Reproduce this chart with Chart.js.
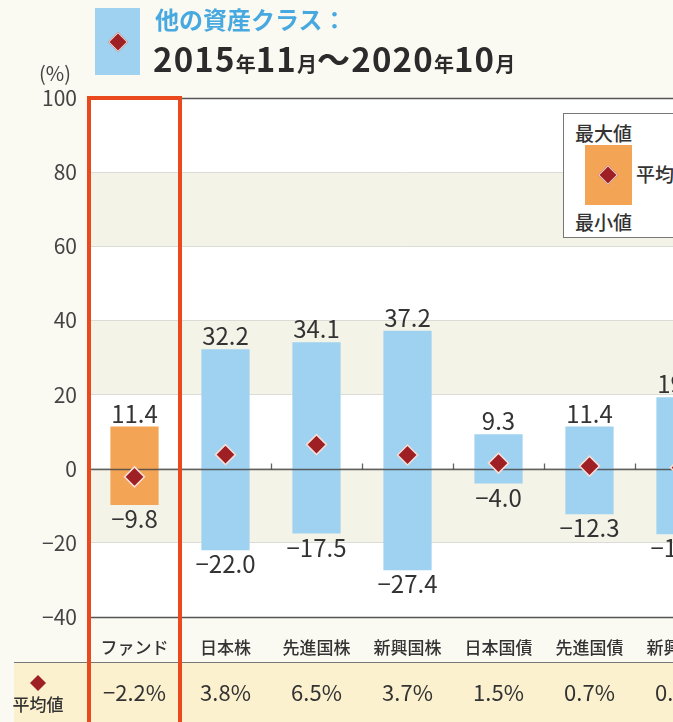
<!DOCTYPE html>
<html lang="ja">
<head>
<meta charset="utf-8">
<script src="https://cdn.jsdelivr.net/npm/chart.js@4"></script>
<style>
  body { margin: 0; background: #faf9f2; font-family: 'Noto Sans CJK JP', sans-serif; }
  #wrap { position: relative; width: 673px; height: 722px; overflow: hidden; }
  #c { position: absolute; left: 0; top: 0; }
  .dia { position: absolute; width: 12px; height: 12px; background: #9e1f24; border: 1px solid #f3d8d0; transform: rotate(45deg); }
  .head-box { position: absolute; left: 95px; top: 8px; width: 45px; height: 67px; background: #9fd2f0; }
  .t1 { position: absolute; left: 155px; top: 1px; font-size: 24px; font-weight: 700; color: #47a9e0; white-space: nowrap; }
  .t2 { position: absolute; left: 153px; top: 34px; font-size: 33px; font-weight: 700; color: #2b2b2b; white-space: nowrap; letter-spacing: 1.2px; }
  .t2 small { font-size: 20px; letter-spacing: 0; }
  .unit { position: absolute; left: 39px; top: 58px; font-size: 20px; color: #444; }
  .legend-box { position: absolute; left: 563px; top: 113px; width: 130px; height: 123px; border: 1px solid #777; background: #fff; font-size: 19px; font-weight: 500; color: #333; }
  .legend-box span { position: absolute; white-space: nowrap; line-height: 1; }
</style>
</head>
<body>
<div id="wrap">
  <canvas id="c" width="740" height="722"></canvas>

  <!-- Header -->
  <div class="head-box"><div class="dia" style="left:16px;top:27px"></div></div>
  <div class="t1">他の資産クラス：</div>
  <div class="t2">2015<small>年</small>11<small>月</small>～2020<small>年</small>10<small>月</small></div>
  <div class="unit">(%)</div>

  <!-- Legend -->
  <div class="legend-box">
    <span style="left:11px;top:9px">最大値</span>
    <div style="position:absolute;left:21px;top:31px;width:47px;height:60px;background:#f4a455">
      <div class="dia" style="left:16px;top:23px"></div>
    </div>
    <span style="left:72px;top:50px">平均値</span>
    <span style="left:11px;top:98px">最小値</span>
  </div>
</div>

<script>
const categories = ['ファンド', '日本株', '先進国株', '新興国株', '日本国債', '先進国債', '新興国債'];
const maxValues  = [11.4, 32.2, 34.1, 37.2, 9.3, 11.4, 19.3];
const minValues  = [-9.8, -22.0, -17.5, -27.4, -4.0, -12.3, -17.7];
const avgValues  = [-2.2, 3.8, 6.5, 3.7, 1.5, 0.7, 0.3];
const yMin = -40, yMax = 100, yStep = 20;

const FONT = "'Noto Sans CJK JP', sans-serif";
const fmtNum = v => (v < 0 ? '\u2212' : '') + Math.abs(v).toFixed(1);
const fmtPct = v => fmtNum(v) + '%';

Chart.defaults.font.family = FONT;
Chart.defaults.color = '#333';

function diamond(ctx, x, y, r, fill, stroke) {
  ctx.beginPath();
  ctx.moveTo(x, y - r); ctx.lineTo(x + r, y); ctx.lineTo(x, y + r); ctx.lineTo(x - r, y);
  ctx.closePath();
  ctx.fillStyle = fill; ctx.fill();
  if (stroke) { ctx.strokeStyle = stroke; ctx.lineWidth = 1; ctx.stroke(); }
}

// background bands inside plot area
const bandsPlugin = {
  id: 'bands',
  beforeDraw(chart) {
    const { ctx, chartArea: a, scales: { y } } = chart;
    ctx.save();
    ctx.fillStyle = '#fff';
    ctx.fillRect(a.left, a.top, a.right - a.left, a.bottom - a.top);
    ctx.fillStyle = '#f4f3e8';
    [[80, 60], [40, 20], [0, -20]].forEach(([hi, lo]) => {
      const t = y.getPixelForValue(hi), b = y.getPixelForValue(lo);
      ctx.fillRect(a.left, t, a.right - a.left, b - t);
    });
    ctx.restore();
  }
};

// zero line + separators drawn right after the bars (under the diamonds)
const zeroPlugin = {
  id: 'zero',
  afterDatasetDraw(chart, args) {
    if (args.index !== 0) return;
    const { ctx, chartArea: a, scales: { x, y } } = chart;
    const y0 = Math.round(y.getPixelForValue(0)) + 0.5;
    ctx.save();
    ctx.strokeStyle = 'rgba(70,70,70,0.85)';
    ctx.lineWidth = 1.3;
    ctx.beginPath(); ctx.moveTo(a.left, y0); ctx.lineTo(a.right, y0); ctx.stroke();
    for (let i = 1; i < categories.length; i++) {
      const xm = Math.round((x.getPixelForValue(i - 1) + x.getPixelForValue(i)) / 2) + 0.5;
      ctx.beginPath(); ctx.moveTo(xm, y0); ctx.lineTo(xm, y0 - 6); ctx.stroke();
    }
    ctx.restore();
  }
};

// value labels, frame lines, average row, highlight box
const labelsPlugin = {
  id: 'labels',
  afterDatasetsDraw(chart) {
    const { ctx, scales: { x, y } } = chart;
    ctx.save();
    ctx.font = '24px ' + FONT;
    ctx.fillStyle = '#333';
    ctx.textAlign = 'center';
    categories.forEach((c, i) => {
      const cx = x.getPixelForValue(i);
      ctx.textBaseline = 'bottom';
      ctx.fillText(fmtNum(maxValues[i]), cx, y.getPixelForValue(maxValues[i]) - 1);
      ctx.textBaseline = 'top';
      ctx.fillText(fmtNum(minValues[i]), cx, y.getPixelForValue(minValues[i]) + 2);
    });
    ctx.restore();
  },
  afterDraw(chart) {
    const { ctx, chartArea: a, scales: { x, y }, width, height } = chart;
    ctx.save();
    // top and bottom frame lines
    ctx.strokeStyle = '#555';
    ctx.lineWidth = 1.3;
    [yMax, yMin].forEach(v => {
      const py = Math.round(y.getPixelForValue(v)) + 0.5;
      ctx.beginPath(); ctx.moveTo(a.left, py); ctx.lineTo(a.right, py); ctx.stroke();
    });

    // average row
    const rowTop = 663;
    ctx.fillStyle = '#fcf1cf';
    ctx.fillRect(14, rowTop, width - 14, height - rowTop);
    ctx.strokeStyle = '#777';
    ctx.lineWidth = 1;
    ctx.beginPath(); ctx.moveTo(14, rowTop - 0.5); ctx.lineTo(width, rowTop - 0.5); ctx.stroke();

    diamond(ctx, 38, 683, 8, '#9e1f24');
    ctx.fillStyle = '#333';
    ctx.textAlign = 'center';
    ctx.textBaseline = 'middle';
    ctx.font = '500 17px ' + FONT;
    ctx.fillText('平均値', 38, 705);
    ctx.font = '22px ' + FONT;
    avgValues.forEach((v, i) => ctx.fillText(fmtPct(v), x.getPixelForValue(i), 693));

    // highlight box around the fund column
    const half = (x.getPixelForValue(1) - x.getPixelForValue(0)) / 2;
    const fx = x.getPixelForValue(0);
    ctx.strokeStyle = '#e9491c';
    ctx.lineWidth = 4;
    ctx.strokeRect(fx - half, a.top, half * 2, height + 10);
    ctx.restore();
  }
};

new Chart(document.getElementById('c'), {
  type: 'bar',
  data: {
    labels: categories,
    datasets: [
      {
        type: 'bar',
        data: minValues.map((v, i) => [v, maxValues[i]]),
        backgroundColor: categories.map((c, i) => i === 0 ? '#f4a455' : '#9fd2f0'),
        borderWidth: 0,
        borderSkipped: false,
        barPercentage: 0.53,
        categoryPercentage: 1,
        order: 2
      },
      {
        type: 'line',
        data: avgValues,
        showLine: false,
        pointStyle: 'rectRot',
        pointRadius: 10,
        pointBackgroundColor: '#9e1f24',
        pointBorderColor: '#f6ddd6',
        pointBorderWidth: 1.5,
        order: 1
      }
    ]
  },
  options: {
    responsive: false,
    animation: false,
    layout: { padding: { top: 98, right: 14, left: 0, bottom: 0 } },
    plugins: { legend: { display: false }, tooltip: { enabled: false } },
    scales: {
      x: {
        grid: { display: false },
        border: { display: false },
        ticks: { font: { size: 17, weight: '500' }, color: '#333', padding: 12, maxRotation: 0, autoSkip: false },
        afterFit(scale) { scale.height = 105; }
      },
      y: {
        min: yMin,
        max: yMax,
        border: { display: false },
        grid: { color: '#dcdcd6', lineWidth: 1, drawTicks: false, tickLength: 0 },
        ticks: {
          stepSize: yStep,
          font: { size: 21 },
          color: '#444',
          padding: 12,
          callback: v => (v < 0 ? '\u2212' + Math.abs(v) : String(v))
        },
        afterFit(scale) { scale.width = 89; }
      }
    }
  },
  plugins: [bandsPlugin, zeroPlugin, labelsPlugin]
});
</script>
</body>
</html>
